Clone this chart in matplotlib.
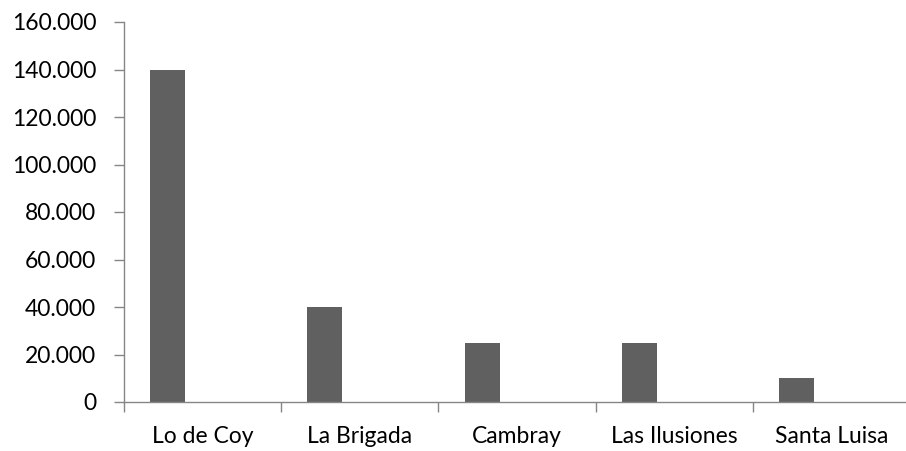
import numpy as np
import matplotlib.pyplot as plt
import matplotlib.ticker as mticker

fincas = ['Lo de Coy', 'La Brigada', 'Cambray', 'Las Ilusiones', 'Santa Luisa']
valores = [140000, 40000, 25000, 25000, 10000]

plt.rcParams['font.family'] = ['Lato', 'DejaVu Sans']
plt.rcParams['font.size'] = 16.5

W, H = 906, 451
fig = plt.figure(figsize=(W / 100, H / 100), dpi=100)
ax = fig.add_axes([124 / W, 49 / H, 786 / W, 380 / H])

x = np.arange(len(fincas))
bar_w = 0.2225
# first series of a two-series cluster; the second one is empty
ax.bar(x - bar_w, valores, width=bar_w, color='#606060', zorder=2)

ax.set_xlim(-0.5, len(fincas) - 0.5)
ax.set_ylim(0, 160000)
ax.set_yticks(np.arange(0, 160001, 20000))
ax.yaxis.set_major_formatter(mticker.FuncFormatter(
    lambda v, p: f'{int(v):,}'.replace(',', '.')))

ax.set_xticks(x)
ax.set_xticklabels(fincas)
ax.set_xticks(np.arange(-0.5, len(fincas)), minor=True)
ax.tick_params(axis='x', which='major', length=0, pad=17)
ax.tick_params(axis='x', which='minor', length=7, color='#868686', width=1)
ax.tick_params(axis='y', length=7, color='#868686', width=1, pad=13)

for s in ['top', 'right']:
    ax.spines[s].set_visible(False)
for s in ['left', 'bottom']:
    ax.spines[s].set_color('#868686')
    ax.spines[s].set_linewidth(1)

fig.savefig('out.png', dpi=100)
